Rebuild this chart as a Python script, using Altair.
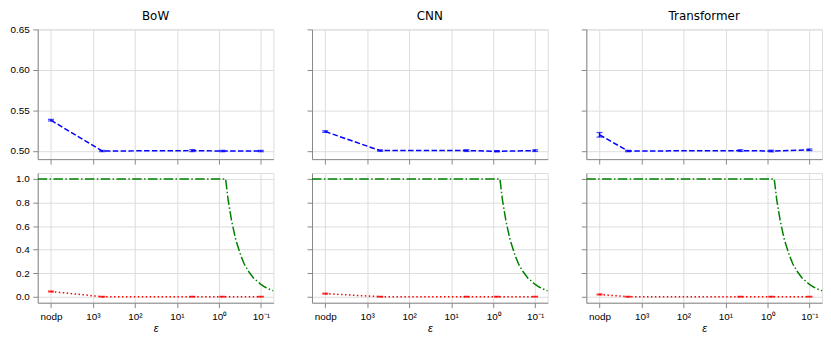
import altair as alt
import pandas as pd

FONT = "DejaVu Sans"

models = ["BoW", "CNN", "Transformer"]

# epsilon positions of the measured points (10000 stands for "nodp")
eps_bow = [10000, 600, 4.3, 0.83, 0.1]
eps_cnn = [10000, 490, 4.3, 0.81, 0.1]
eps_tf = [10000, 2100, 4.4, 0.81, 0.1]

# top row: blue dashed series with error bars
acc_bow = [0.538, 0.500, 0.5005, 0.500, 0.500]
acc_cnn = [0.524, 0.5005, 0.5005, 0.4997, 0.5005]
acc_tf = [0.520, 0.500, 0.5005, 0.500, 0.5015]
acc_err_bow = [0.0010, 0.0008, 0.0012, 0.0008, 0.0008]
acc_err_cnn = [0.0010, 0.0008, 0.0010, 0.0008, 0.0010]
acc_err_tf = [0.0028, 0.0008, 0.0010, 0.0010, 0.0010]

# bottom row: red dotted series with error bars
red_bow = [0.045, 0.001, 0.001, 0.001, 0.001]
red_cnn = [0.027, 0.001, 0.001, 0.001, 0.001]
red_tf = [0.020, 0.001, 0.001, 0.001, 0.001]
red_err = [0.004, 0.003, 0.003, 0.003, 0.003]

# bottom row: green dash-dot curve (same in all panels)
eps_green = [20650, 10000, 1000, 100, 10, 1.0, 0.69, 0.6, 0.5, 0.4, 0.3,
             0.25, 0.2, 0.15, 0.12, 0.1, 0.08, 0.065, 0.0502]
val_green = [1.0, 1.0, 1.0, 1.0, 1.0, 1.0, 1.0, 0.82, 0.65, 0.49, 0.35,
             0.28, 0.22, 0.16, 0.13, 0.105, 0.083, 0.067, 0.051]

x_ticks = [10000, 1000, 100, 10, 1, 0.1]
x_domain = [0.0502, 20650]
top_ticks = [0.50, 0.55, 0.60, 0.65]
top_domain = [0.49, 0.65]
bot_ticks = [0.0, 0.2, 0.4, 0.6, 0.8, 1.0]
bot_domain = [-0.05, 1.05]

series = {
    "BoW": (eps_bow, acc_bow, acc_err_bow, red_bow),
    "CNN": (eps_cnn, acc_cnn, acc_err_cnn, red_cnn),
    "Transformer": (eps_tf, acc_tf, acc_err_tf, red_tf),
}

label_expr = ("datum.value > 5000 ? 'nodp' : datum.value > 500 ? '10³' : "
              "datum.value > 50 ? '10²' : datum.value > 5 ? '10¹' : "
              "datum.value > 0.5 ? '10⁰' : '10⁻¹'")

W = 238
H = 131
BLUE = "#0000ff"
RED = "#ff0000"
GREEN = "#008000"


def x_axis(bottom):
    if bottom:
        return alt.Axis(values=x_ticks, labelExpr=label_expr, title="ε",
                        labelFlush=False, labelOverlap=False, labelPadding=3.5,
                        titleFontStyle="italic", titleFontSize=11,
                        titleFontWeight="normal", titlePadding=2)
    return alt.Axis(values=x_ticks, labels=False, title=None,
                    minExtent=4, maxExtent=4)


def y_axis(col, ticks, fmt):
    if col == 0:
        return alt.Axis(values=ticks, format=fmt, title=None, labelFlush=False,
                        labelPadding=3.5, minExtent=29, maxExtent=29)
    return alt.Axis(values=ticks, labels=False, title=None,
                    minExtent=4, maxExtent=4)


def xs(bottom):
    return alt.X("eps:Q",
                 scale=alt.Scale(type="log", domain=x_domain, reverse=True, nice=False),
                 axis=x_axis(bottom))


def with_err(vals, errs, col, ticks, fmt, domain, color, dash, bottom):
    eps = series[models[col]][0]
    df = pd.DataFrame({
        "eps": eps,
        "v": vals,
        "lo": [a - e for a, e in zip(vals, errs)],
        "hi": [a + e for a, e in zip(vals, errs)],
    })
    ysc = alt.Scale(domain=domain, nice=False, zero=False)
    yax = y_axis(col, ticks, fmt)
    base = alt.Chart(df)
    line = base.mark_line(color=color, strokeWidth=1.5, strokeDash=dash, clip=True).encode(
        x=xs(bottom), y=alt.Y("v:Q", scale=ysc, axis=yax))
    rule = base.mark_rule(color=color, strokeWidth=1.5).encode(
        x=xs(bottom), y=alt.Y("lo:Q", scale=ysc, axis=yax), y2="hi:Q")
    cap_lo = base.mark_tick(color=color, orient="horizontal", size=6, thickness=1.3).encode(
        x=xs(bottom), y=alt.Y("lo:Q", scale=ysc, axis=yax))
    cap_hi = base.mark_tick(color=color, orient="horizontal", size=6, thickness=1.3).encode(
        x=xs(bottom), y=alt.Y("hi:Q", scale=ysc, axis=yax))
    return [line, rule, cap_lo, cap_hi]


def top_panel(col):
    eps, acc, err, red = series[models[col]]
    layers = with_err(acc, err, col, top_ticks, ".2f", top_domain, BLUE, [5.5, 2.4], False)
    title = alt.Chart(pd.DataFrame({"t": [models[col]]})).mark_text(
        font=FONT, fontSize=12, color="black", baseline="bottom", align="center"
    ).encode(text="t:N", x=alt.value(W / 2), y=alt.value(-6))
    return alt.layer(*layers, title).properties(width=W, height=H)


def bottom_panel(col):
    eps, acc, err, red = series[models[col]]
    ysc = alt.Scale(domain=bot_domain, nice=False, zero=False)
    gdf = pd.DataFrame({"eps": eps_green, "v": val_green})
    green = alt.Chart(gdf).mark_line(
        color=GREEN, strokeWidth=1.5, strokeDash=[9.6, 2.4, 1.5, 2.4], clip=True
    ).encode(x=xs(True), y=alt.Y("v:Q", scale=ysc, axis=y_axis(col, bot_ticks, ".1f")))
    layers = with_err(red, red_err, col, bot_ticks, ".1f", bot_domain, RED, [1.5, 2.5], True)
    return alt.layer(green, *layers).properties(width=W, height=H)


top = alt.hconcat(*[top_panel(c) for c in range(3)], spacing=32)
bottom = alt.hconcat(*[bottom_panel(c) for c in range(3)], spacing=32)

chart = alt.vconcat(top, bottom, spacing=7).properties(
    padding=0
).configure_view(
    stroke="black", strokeWidth=1, fill="white"
).configure_axis(
    domain=False, tickColor="black", tickWidth=0.8, tickSize=3.5,
    grid=True, gridColor="#b0b0b0", gridWidth=0.8,
    labelFont=FONT, labelFontSize=10, labelColor="black",
    titleFont=FONT, titleColor="black"
).configure(background="white")

chart.save("out.html", embed_options={"renderer": "svg", "actions": False})
